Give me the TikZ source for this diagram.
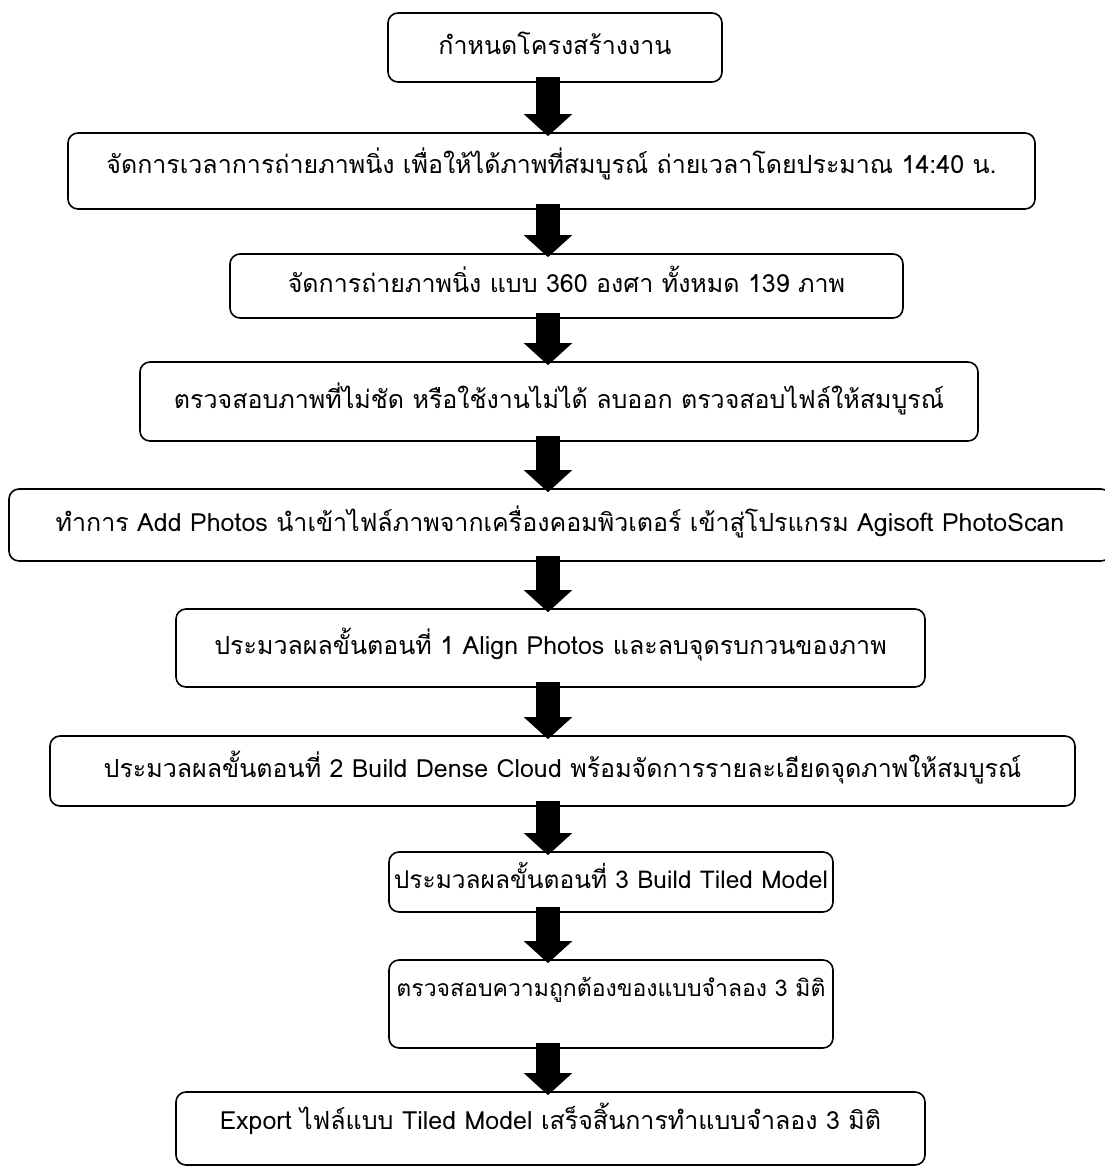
\documentclass[tikz,border=0pt]{standalone}
\usepackage{fontspec}
\setmainfont[Script=Thai]{Loma}
\usetikzlibrary{arrows.meta}

\begin{document}
\begin{tikzpicture}[x=1pt, y=-1pt,
    stepbox/.style={draw, line width=1.6pt, rounded corners=10pt, inner sep=0pt,
                    text height=22pt, text depth=9pt,
                    font=\fontsize{25}{29}\selectfont},
    downarrow/.style={line width=24pt,
                      -{Triangle[width=47pt, length=22pt]}}]
  \useasboundingbox (0,0) rectangle (1105,1175);
  \node[stepbox, minimum width=334pt, minimum height=69pt] (s1) at (555,47.5)
    {กำหนดโครงสร้างงาน};
  \node[stepbox, minimum width=967pt, minimum height=76pt, text depth=17pt] (s2) at (551.5,171)
    {จัดการเวลาการถ่ายภาพนิ่ง เพื่อให้ได้ภาพที่สมบูรณ์ ถ่ายเวลาโดยประมาณ 14:40 น.};
  \node[stepbox, minimum width=673pt, minimum height=64pt] (s3) at (566.5,286)
    {จัดการถ่ายภาพนิ่ง แบบ 360 องศา ทั้งหมด 139 ภาพ};
  \node[stepbox, minimum width=838pt, minimum height=79pt] (s4) at (559,401.5)
    {ตรวจสอบภาพที่ไม่ชัด หรือใช้งานไม่ได้ ลบออก ตรวจสอบไฟล์ให้สมบูรณ์};
  \node[stepbox, minimum width=1102pt, minimum height=72pt] (s5) at (560,525)
    {ทำการ Add Photos นำเข้าไฟล์ภาพจากเครื่องคอมพิวเตอร์ เข้าสู่โปรแกรม Agisoft PhotoScan};
  \node[stepbox, minimum width=749pt, minimum height=78pt] (s6) at (550.5,648)
    {ประมวลผลขั้นตอนที่ 1 Align Photos และลบจุดรบกวนของภาพ};
  \node[stepbox, minimum width=1025pt, minimum height=70pt] (s7) at (562.5,771)
    {ประมวลผลขั้นตอนที่ 2 Build Dense Cloud พร้อมจัดการรายละเอียดจุดภาพให้สมบูรณ์};
  \node[stepbox, minimum width=444pt, minimum height=60pt, font=\fontsize{24.5}{29}\selectfont] (s8) at (611,882)
    {ประมวลผลขั้นตอนที่ 3 Build Tiled Model};
  \node[stepbox, minimum width=444pt, minimum height=88pt, text depth=37pt,
        font=\fontsize{23}{28}\selectfont] (s9) at (611,1004)
    {ตรวจสอบความถูกต้องของแบบจำลอง 3 มิติ};
  \node[stepbox, minimum width=749pt, minimum height=73pt, text depth=21pt] (s10) at (550.5,1128.5)
    {Export ไฟล์แบบ Tiled Model เสร็จสิ้นการทำแบบจำลอง 3 มิติ};
  \foreach \a/\b in {s1/s2, s2/s3, s3/s4, s4/s5, s5/s6, s6/s7, s7/s8, s8/s9, s9/s10}
    \draw[downarrow] ([yshift=6pt]\a.south -| 548,0) -- ([yshift=-4pt]\b.north -| 548,0);
\end{tikzpicture}
\end{document}
